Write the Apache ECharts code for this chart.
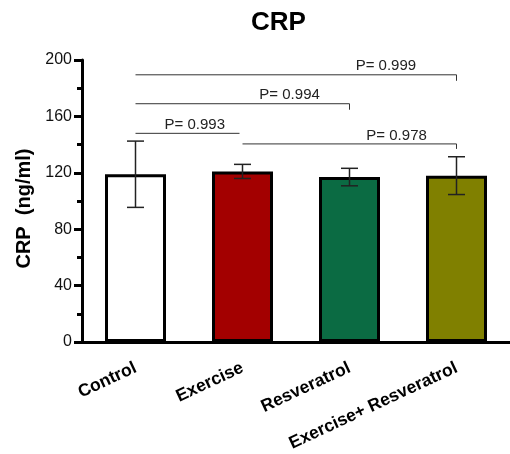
<!DOCTYPE html>
<html>
<head>
<meta charset="utf-8">
<script src="https://cdn.jsdelivr.net/npm/echarts@6/dist/echarts.min.js"></script>
<style>
  html, body { margin: 0; padding: 0; background: #fff; }
  #chart { width: 510px; height: 454px; }
</style>
</head>
<body>
<div id="chart"></div>
<script>
// Groups and CRP values (mean ± SD, ng/ml)
const categories = ['Control', 'Exercise', 'Resveratrol', 'Exercise+ Resveratrol'];
const means = [119, 121, 117, 118];
const sds = [23.5, 5, 6.2, 13.4];
const barColors = ['#ffffff', '#a30000', '#0b6b43', '#808000'];

// Pairwise comparisons: group indices and P values
const compareFrom = [0, 0, 0, 1];
const compareTo = [1, 2, 3, 3];
const pValues = [0.993, 0.994, 0.999, 0.978];

// Y axis ticks
const yTicks = [0, 40, 80, 120, 160, 200];

// Bracket layout: height (axis units), end-tick length, right inset, label placement
const bracketLevel = [148, 169, 189.5, 140.5];
const bracketTick = [0, 6, 6, 5];
const bracketInset = [3, 0, 0, 0];
const labelAlong = [0.57, 0.72, 0.78, 0.72];

const FONT = 'Arial, "Liberation Sans", Helvetica, sans-serif';
const chart = echarts.init(document.getElementById('chart'));

chart.setOption({
  animation: false,
  backgroundColor: '#fff',
  title: {
    text: 'CRP',
    left: 246,
    top: 5,
    textStyle: { fontFamily: FONT, fontSize: 26, fontWeight: 'bold', color: '#000' }
  },
  grid: { left: 82, top: 60, width: 431, height: 285, containLabel: false },
  xAxis: {
    type: 'category',
    data: categories,
    boundaryGap: true,
    axisLine: { lineStyle: { color: '#000', width: 3 } },
    axisTick: { alignWithLabel: true, length: 7, lineStyle: { color: '#000', width: 3 } },
    axisLabel: {
      rotate: 25, margin: 25, interval: 0,
      fontFamily: FONT, fontSize: 17.5, fontWeight: 'bold', color: '#000'
    }
  },
  yAxis: {
    type: 'value',
    min: yTicks[0],
    max: yTicks[yTicks.length - 1],
    interval: yTicks[1] - yTicks[0],
    name: 'CRP  (ng/ml)',
    nameLocation: 'middle',
    nameGap: 48,
    nameTextStyle: { fontFamily: FONT, fontSize: 20, fontWeight: 'bold', color: '#000', padding: [0, 15, 0, 0] },
    axisLine: { show: true, lineStyle: { color: '#000', width: 3 } },
    axisTick: { show: true, length: 8, lineStyle: { color: '#000', width: 3 } },
    minorTick: { show: true, splitNumber: 2, length: 5, lineStyle: { color: '#000', width: 3 } },
    splitLine: { show: false },
    axisLabel: { margin: 10, fontFamily: FONT, fontSize: 16, color: '#111' }
  },
  series: [
    {
      type: 'bar',
      data: means.map((v, i) => ({ value: v, itemStyle: { color: barColors[i] } })),
      barWidth: 61,
      itemStyle: { borderColor: '#000', borderWidth: 3 },
      z: 2
    },
    {
      // SD error bars
      type: 'custom',
      data: means.map((v, i) => [i, v - sds[i], v + sds[i]]),
      z: 5,
      clip: false,
      renderItem: function (params, api) {
        const i = api.value(0);
        const lo = api.coord([i, api.value(1)]);
        const hi = api.coord([i, api.value(2)]);
        const half = 8.5;
        const style = { stroke: '#222', lineWidth: 1.5 };
        return {
          type: 'group',
          children: [
            { type: 'line', shape: { x1: lo[0], y1: lo[1], x2: hi[0], y2: hi[1] }, style },
            { type: 'line', shape: { x1: hi[0] - half, y1: hi[1], x2: hi[0] + half, y2: hi[1] }, style },
            { type: 'line', shape: { x1: lo[0] - half, y1: lo[1], x2: lo[0] + half, y2: lo[1] }, style }
          ]
        };
      }
    },
    {
      // Comparison brackets with P values
      type: 'custom',
      data: pValues.map((p, k) => [compareFrom[k], bracketLevel[k], compareTo[k], p]),
      z: 6,
      clip: false,
      renderItem: function (params, api) {
        const k = params.dataIndex;
        const a = api.coord([api.value(0), api.value(1)]);
        const b = api.coord([api.value(2), api.value(1)]);
        const x2 = b[0] - bracketInset[k];
        const style = { stroke: '#333', lineWidth: 1 };
        const children = [
          { type: 'line', shape: { x1: a[0], y1: a[1], x2: x2, y2: a[1] }, style }
        ];
        if (bracketTick[k] > 0) {
          children.push({ type: 'line', shape: { x1: x2, y1: a[1], x2: x2, y2: a[1] + bracketTick[k] }, style });
        }
        children.push({
          type: 'text',
          style: {
            x: a[0] + (x2 - a[0]) * labelAlong[k],
            y: a[1] - 1,
            text: 'P= ' + api.value(3).toFixed(3),
            fill: '#222',
            font: '15px ' + FONT,
            textAlign: 'center',
            textVerticalAlign: 'bottom'
          }
        });
        return { type: 'group', children };
      }
    }
  ]
});
</script>
</body>
</html>
